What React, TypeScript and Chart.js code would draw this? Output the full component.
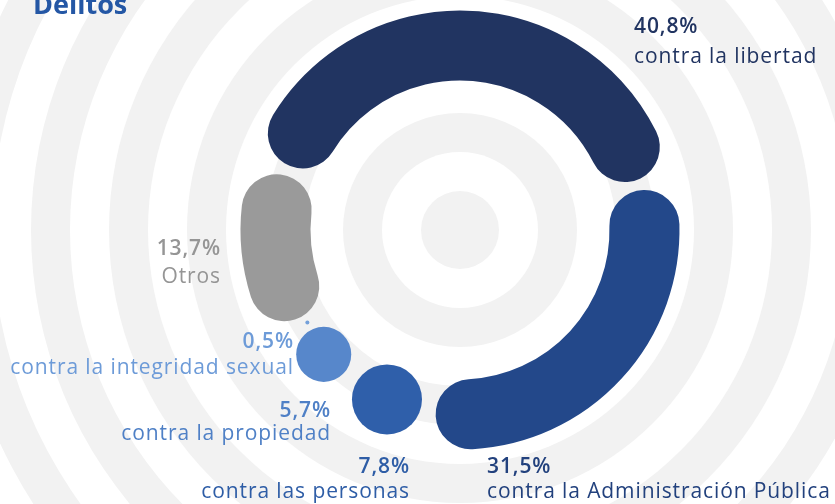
import React, { useEffect, useRef } from "react";
import { Chart, registerables } from "chart.js";

Chart.register(...registerables);

// ---- data ----
const title = "Delitos";
const categories = [
  "contra la libertad",
  "contra la Administración Pública",
  "contra las personas",
  "contra la propiedad",
  "contra la integridad sexual",
  "Otros",
];
const values = [40.8, 31.5, 7.8, 5.7, 0.5, 13.7];
const valueLabels = ["40,8%", "31,5%", "7,8%", "5,7%", "0,5%", "13,7%"];

// ---- styles ----
const segmentColors = ["#213461", "#23488a", "#2f5faa", "#5787cb", "#74a0da", "#9a9a9a"];
const labelColors = ["#213461", "#22417d", "#2e5da6", "#4f80c6", "#6d9bd8", "#959595"];

// label anchors (layout only)
const labelLayout = [
  { x: 634, y1: 33, y2: 63, align: "left" },
  { x: 487, y1: 473, y2: 498, align: "left" },
  { x: 410, y1: 473, y2: 498, align: "right" },
  { x: 331, y1: 417, y2: 440, align: "right" },
  { x: 294, y1: 348, y2: 374, align: "right" },
  { x: 221, y1: 255, y2: 283, align: "right" },
];

const GAP = 11;
const BAND = 39;
const FONT = "'Open Sans', 'Noto Sans', sans-serif";

const ringsBackground = {
  id: "ringsBackground",
  beforeDraw(chart: any) {
    const ctx = chart.ctx;
    const meta = chart.getDatasetMeta(0);
    const el = meta.data[0];
    if (!el) return;
    const { x, y } = el;
    ctx.save();
    ctx.fillStyle = "#ffffff";
    ctx.fillRect(0, 0, chart.width, chart.height);
    for (let k = 15; k >= 0; k--) {
      ctx.beginPath();
      ctx.arc(x, y, BAND * (k + 1), 0, Math.PI * 2);
      ctx.fillStyle = k % 2 === 0 ? "#f2f2f2" : "#ffffff";
      ctx.fill();
    }
    ctx.restore();
  },
};

const roundArcs = {
  id: "roundArcs",
  beforeDatasetDraw(chart: any, args: any) {
    const meta = chart.getDatasetMeta(args.index);
    const ctx = chart.ctx;
    ctx.save();
    meta.data.forEach((el: any) => {
      const p = el.getProps(["x", "y", "startAngle", "endAngle", "innerRadius", "outerRadius"], true);
      const color = el.options.backgroundColor;
      const rm = (p.innerRadius + p.outerRadius) / 2;
      const t = p.outerRadius - p.innerRadius;
      const alpha = p.endAngle - p.startAngle;
      const Lv = alpha * rm - GAP;
      if (Lv >= t * 1.25) {
        const d = (GAP / 2 + t / 2) / rm;
        ctx.beginPath();
        ctx.arc(p.x, p.y, rm, p.startAngle + d, p.endAngle - d);
        ctx.lineWidth = t;
        ctx.lineCap = "round";
        ctx.strokeStyle = color;
        ctx.stroke();
      } else {
        const diam = Math.min(t, Math.max(Lv, 4));
        const mid = (p.startAngle + p.endAngle) / 2;
        const rr = diam < 8 ? rm - 6 : rm;
        ctx.beginPath();
        ctx.arc(p.x + rr * Math.cos(mid), p.y + rr * Math.sin(mid), diam / 2, 0, Math.PI * 2);
        ctx.fillStyle = color;
        ctx.fill();
      }
    });
    ctx.restore();
    return false;
  },
};

const labelsPlugin = {
  id: "labelsPlugin",
  afterDraw(chart: any) {
    const ctx = chart.ctx;
    ctx.save();
    ctx.textBaseline = "alphabetic";
    // title
    ctx.fillStyle = "#2457a5";
    ctx.font = `700 27px ${FONT}`;
    ctx.textAlign = "left";
    ctx.fillText(title, 33, 14);
    (ctx as any).letterSpacing = "0.9px";
    categories.forEach((cat, i) => {
      const L = labelLayout[i];
      ctx.fillStyle = labelColors[i];
      ctx.textAlign = L.align;
      ctx.font = `600 21px ${FONT}`;
      ctx.fillText(valueLabels[i], L.x, L.y1);
      ctx.font = `400 21px ${FONT}`;
      ctx.fillText(cat, L.x, L.y2);
    });
    ctx.restore();
  },
};

export default function App() {
  const ref = useRef<HTMLCanvasElement>(null);
  useEffect(() => {
    if (!ref.current) return;
    const chart = new Chart(ref.current, {
      type: "doughnut",
      data: {
        labels: categories,
        datasets: [
          {
            data: values,
            backgroundColor: segmentColors,
            borderWidth: 0,
          },
        ],
      },
      options: {
        responsive: false,
        animation: false,
        rotation: -71,
        cutout: "68.1%",
        layout: { padding: { left: 85, right: 0, top: 10.5, bottom: 54.5 } },
        plugins: {
          legend: { display: false },
          tooltip: { enabled: false },
        },
        events: [],
      },
      plugins: [ringsBackground, roundArcs, labelsPlugin],
    });
    return () => chart.destroy();
  }, []);
  return (
    <div style={{ position: "absolute", left: 0, top: 0, width: 835, height: 504, background: "#fff" }}>
      <canvas ref={ref} width={835} height={504} style={{ display: "block" }} />
    </div>
  );
}
